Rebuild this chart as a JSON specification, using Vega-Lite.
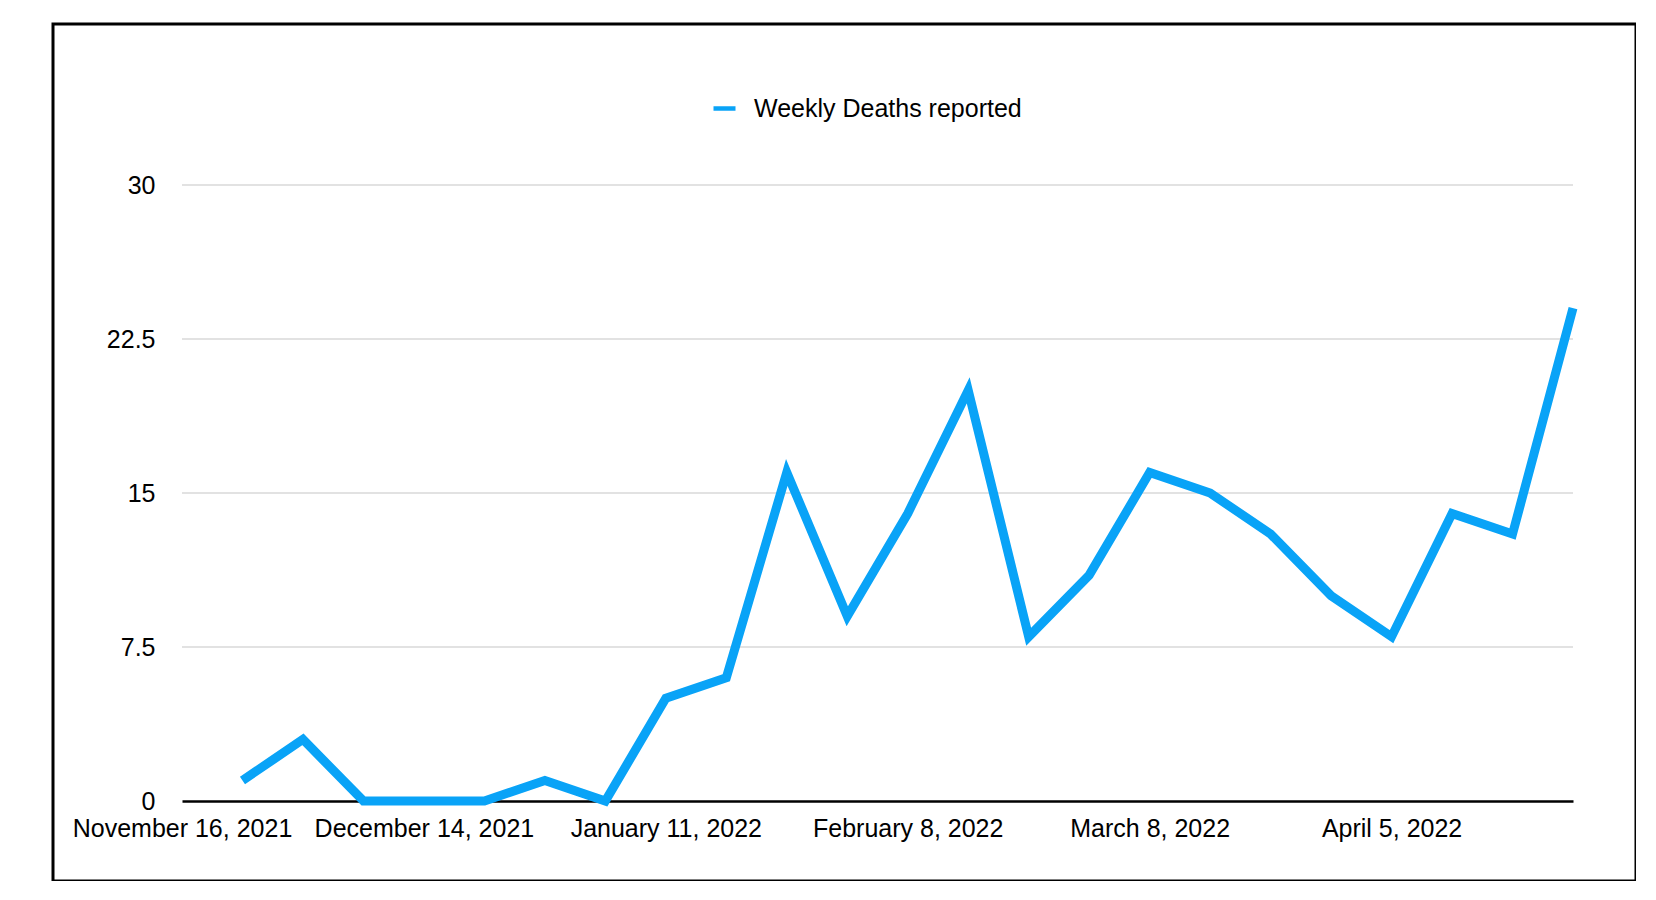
{
  "$schema": "https://vega.github.io/schema/vega-lite/v6.json",
  "width": 1583,
  "height": 857,
  "autosize": {"type": "none"},
  "padding": {"left": 53, "top": 24, "right": 0, "bottom": 0},
  "background": "white",
  "config": {
    "font": "Liberation Sans",
    "view": {"stroke": "#000000", "strokeWidth": 3},
    "axisX": {
      "title": null,
      "domain": true,
      "domainColor": "#000000",
      "domainWidth": 2.5,
      "ticks": false,
      "tickSize": 0,
      "grid": false,
      "offset": -80,
      "labelPadding": 15,
      "labelFontSize": 25,
      "labelColor": "#000000",
      "labelFlush": false,
      "labelOverlap": false,
      "labelBound": false,
      "labelLimit": 0
    },
    "axisY": {
      "title": null,
      "domain": false,
      "ticks": false,
      "tickSize": 0,
      "grid": false,
      "offset": -129,
      "labelPadding": 27,
      "labelFontSize": 25,
      "labelColor": "#000000"
    }
  },
  "data": {
    "values": [
      {"date": "2021/11/23", "deaths": 1},
      {"date": "2021/11/30", "deaths": 3},
      {"date": "2021/12/07", "deaths": 0},
      {"date": "2021/12/14", "deaths": 0},
      {"date": "2021/12/21", "deaths": 0},
      {"date": "2021/12/28", "deaths": 1},
      {"date": "2022/01/04", "deaths": 0},
      {"date": "2022/01/11", "deaths": 5},
      {"date": "2022/01/18", "deaths": 6},
      {"date": "2022/01/25", "deaths": 16},
      {"date": "2022/02/01", "deaths": 9},
      {"date": "2022/02/08", "deaths": 14},
      {"date": "2022/02/15", "deaths": 20},
      {"date": "2022/02/22", "deaths": 8},
      {"date": "2022/03/01", "deaths": 11},
      {"date": "2022/03/08", "deaths": 16},
      {"date": "2022/03/15", "deaths": 15},
      {"date": "2022/03/22", "deaths": 13},
      {"date": "2022/03/29", "deaths": 10},
      {"date": "2022/04/05", "deaths": 8},
      {"date": "2022/04/12", "deaths": 14},
      {"date": "2022/04/19", "deaths": 13},
      {"date": "2022/04/26", "deaths": 24}
    ]
  },
  "layer": [
    {
      "data": {"values": [{"g": 7.5}, {"g": 15}, {"g": 22.5}, {"g": 30}]},
      "mark": {"type": "rule", "color": "#c6c6c6", "strokeWidth": 1.2},
      "encoding": {
        "y": {
          "field": "g",
          "type": "quantitative",
          "axis": {"values": [0, 7.5, 15, 22.5, 30], "format": ".1~f", "title": null}
        },
        "x": {
          "datum": {"year": 2021, "month": 11, "date": 16},
          "type": "temporal",
          "axis": {
            "values": [
              {"year": 2021, "month": 11, "date": 16},
              {"year": 2021, "month": 12, "date": 14},
              {"year": 2022, "month": 1, "date": 11},
              {"year": 2022, "month": 2, "date": 8},
              {"year": 2022, "month": 3, "date": 8},
              {"year": 2022, "month": 4, "date": 5}
            ],
            "format": "%B %-d, %Y",
            "title": null
          }
        },
        "x2": {"datum": {"year": 2022, "month": 4, "date": 26}}
      }
    },
    {
      "mark": {"type": "line", "strokeWidth": 9, "strokeJoin": "miter", "strokeCap": "butt"},
      "encoding": {
        "x": {
          "field": "date",
          "type": "temporal",
          "scale": {
            "domain": [{"year": 2021, "month": 11, "date": 16}, {"year": 2022, "month": 4, "date": 26}],
            "range": [129, 1520]
          },
          "axis": {
            "values": [
              {"year": 2021, "month": 11, "date": 16},
              {"year": 2021, "month": 12, "date": 14},
              {"year": 2022, "month": 1, "date": 11},
              {"year": 2022, "month": 2, "date": 8},
              {"year": 2022, "month": 3, "date": 8},
              {"year": 2022, "month": 4, "date": 5}
            ],
            "format": "%B %-d, %Y",
            "title": null
          }
        },
        "y": {
          "field": "deaths",
          "type": "quantitative",
          "scale": {"domain": [0, 30], "range": [777, 161], "nice": false, "zero": true},
          "axis": {"values": [0, 7.5, 15, 22.5, 30], "format": ".1~f", "title": null}
        },
        "color": {
          "datum": "Weekly Deaths reported",
          "scale": {"range": ["#09a3f7"]},
          "legend": {
            "title": null,
            "orient": "none",
            "legendX": 658,
            "legendY": 71,
            "padding": 0,
            "symbolType": "stroke",
            "symbolSize": 484,
            "symbolStrokeWidth": 4.5,
            "labelOffset": 16,
            "labelFontSize": 25,
            "labelLimit": 0,
            "labelColor": "#000000"
          }
        }
      }
    }
  ]
}
